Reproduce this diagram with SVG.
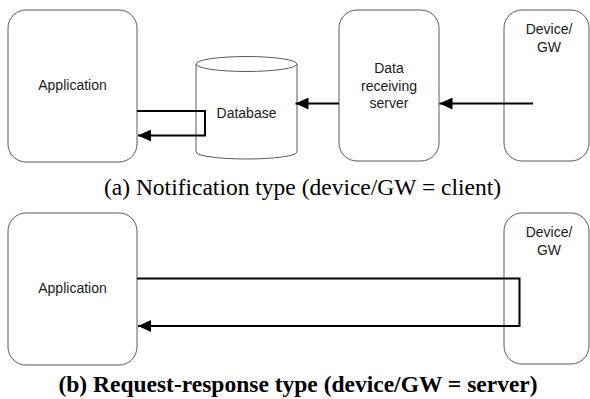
<svg xmlns="http://www.w3.org/2000/svg" width="590" height="399" viewBox="0 0 590 399">
  <style>
    .box { fill: #ffffff; stroke: #5a5a5a; stroke-width: 1; }
    .lbl { font-family: "Liberation Sans", Arial, sans-serif; font-size: 14px; fill: #1a1a1a; text-anchor: middle; }
    .cap { font-family: "Liberation Serif", "Times New Roman", serif; font-size: 23.5px; fill: #000000; text-anchor: middle; }
    .capb { font-weight: bold; }
    .flow { fill: none; stroke: #000000; stroke-width: 2; }
  </style>
  <defs>
    <marker id="ah" markerWidth="14" markerHeight="12" refX="13" refY="6" orient="auto" markerUnits="userSpaceOnUse">
      <path d="M0,0 L13,6 L0,12 z" fill="#000000"/>
    </marker>
  </defs>
  <rect width="590" height="399" fill="#ffffff"/>

  <!-- (a) notification type -->
  <g id="app-a">
    <rect class="box" x="8" y="10" width="129" height="152" rx="18" ry="18"/>
    <text class="lbl" x="72.5" y="90">Application</text>
  </g>
  <g id="database">
    <path class="box" d="M196,64 V152 A50.5,7 0 0 0 297,152 V64"/>
    <ellipse class="box" cx="246.5" cy="64" rx="50.5" ry="7.5"/>
    <text class="lbl" x="246.5" y="118">Database</text>
  </g>
  <g id="receiver">
    <rect class="box" x="339" y="10" width="100" height="151" rx="18" ry="18"/>
    <text class="lbl" x="389" y="73">Data</text>
    <text class="lbl" x="389" y="91">receiving</text>
    <text class="lbl" x="389" y="108">server</text>
  </g>
  <g id="device-a">
    <rect class="box" x="504" y="10" width="85" height="151" rx="18" ry="18"/>
    <text class="lbl" x="549" y="34">Device/</text>
    <text class="lbl" x="549" y="52">GW</text>
  </g>
  <g id="connectors-a">
    <path class="flow" d="M533,103.5 H439.5" marker-end="url(#ah)"/>
    <path class="flow" d="M339,103.5 H295.5" marker-end="url(#ah)"/>
    <path class="flow" d="M137,111 H205 V135.5 H138" marker-end="url(#ah)"/>
  </g>
  <text class="cap" x="302.5" y="195">(a) Notification type (device/GW = client)</text>

  <!-- (b) request-response type -->
  <g id="app-b">
    <rect class="box" x="8" y="213" width="129" height="152" rx="18" ry="18"/>
    <text class="lbl" x="72.5" y="293">Application</text>
  </g>
  <g id="device-b">
    <rect class="box" x="504" y="213" width="85" height="151" rx="18" ry="18"/>
    <text class="lbl" x="549" y="237">Device/</text>
    <text class="lbl" x="549" y="255">GW</text>
  </g>
  <g id="connectors-b">
    <path class="flow" d="M137,278.5 H519.5 V326 H138" marker-end="url(#ah)"/>
  </g>
  <text class="cap capb" x="298" y="392">(b) Request-response type (device/GW = server)</text>
</svg>
